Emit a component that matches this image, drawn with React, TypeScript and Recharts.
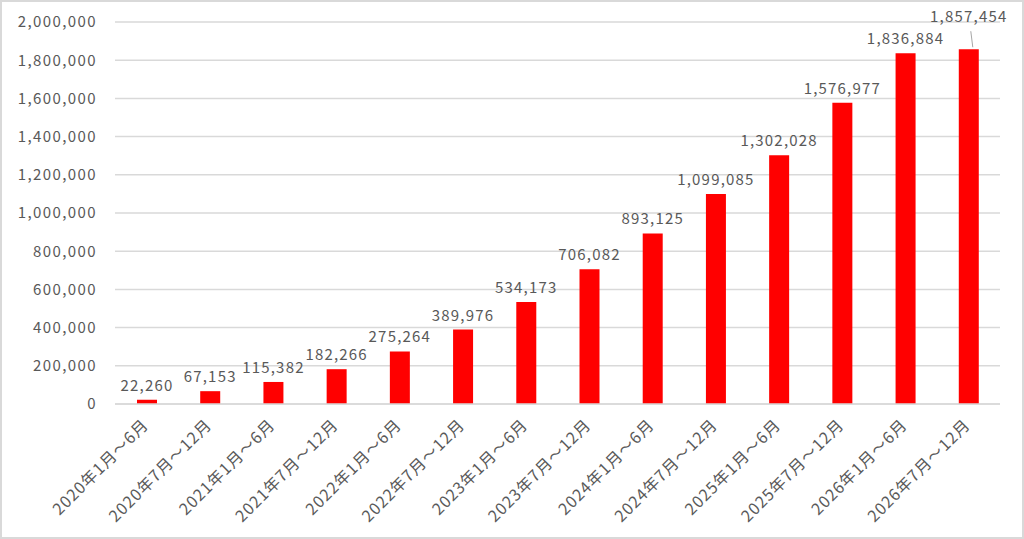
import { BarChart, Bar, XAxis, YAxis, CartesianGrid, LabelList } from "recharts";

const PERIODS = [
  "2020年1月～6月", "2020年7月～12月", "2021年1月～6月", "2021年7月～12月",
  "2022年1月～6月", "2022年7月～12月", "2023年1月～6月", "2023年7月～12月",
  "2024年1月～6月", "2024年7月～12月", "2025年1月～6月", "2025年7月～12月",
  "2026年1月～6月", "2026年7月～12月",
];
const VALUES = [
  22260, 67153, 115382, 182266, 275264, 389976, 534173, 706082,
  893125, 1099085, 1302028, 1576977, 1836884, 1857454,
];
const Y_TICKS = [0, 200000, 400000, 600000, 800000, 1000000, 1200000, 1400000, 1600000, 1800000, 2000000];

const data = PERIODS.map((p, i) => ({ period: p, value: VALUES[i] }));

const FONT = "'Noto Sans CJK JP', 'Noto Sans', sans-serif";
const TEXT = "#595959";
const GRID = "#d9d9d9";
const fmt = (v: number) => v.toLocaleString("en-US");

function XTick({ x, y, payload }: any) {
  const ax = x + 3;
  const ay = y + 14;
  return (
    <text x={ax} y={ay} transform={`rotate(-45, ${ax}, ${ay})`} textAnchor="end"
          fontSize={16} fill={TEXT} fontFamily={FONT} letterSpacing={1}>
      {payload.value}
    </text>
  );
}

function ValueLabel({ x, y, width, value, index }: any) {
  const cx = x + width / 2;
  const last = index === VALUES.length - 1;
  const ty = last ? y - 27 : y - 9;
  return (
    <g>
      {last && <line x1={cx + 2} y1={y - 18} x2={cx + 4} y2={y - 2} stroke="#a6a6a6" strokeWidth={1} />}
      <text x={cx} y={ty} textAnchor="middle" fontSize={15} fill={TEXT} fontFamily={FONT} letterSpacing={1.2}>
        {fmt(value)}
      </text>
    </g>
  );
}

export default function App() {
  return (
    <div style={{ position: "fixed", left: 0, top: 0, width: 1024, height: 539, background: "#fff",
                  boxSizing: "border-box", border: "2px solid #d9d9d9" }}>
      <BarChart width={1020} height={535} data={data} margin={{ top: 20, right: 22, left: 0, bottom: 8 }}>
        <CartesianGrid stroke={GRID} strokeWidth={1.5} vertical={false} />
        <XAxis dataKey="period" interval={0} height={125} tick={<XTick />} tickLine={false}
               axisLine={{ stroke: GRID, strokeWidth: 1.5 }} />
        <YAxis domain={[0, 2000000]} ticks={Y_TICKS} width={113} tickLine={false} axisLine={false}
               tickMargin={12} tickFormatter={fmt}
               tick={{ fontSize: 15, fill: TEXT, fontFamily: FONT, letterSpacing: 1.4 }} />
        <Bar dataKey="value" fill="#ff0000" barSize={20} isAnimationActive={false}>
          <LabelList dataKey="value" content={<ValueLabel />} />
        </Bar>
      </BarChart>
    </div>
  );
}
